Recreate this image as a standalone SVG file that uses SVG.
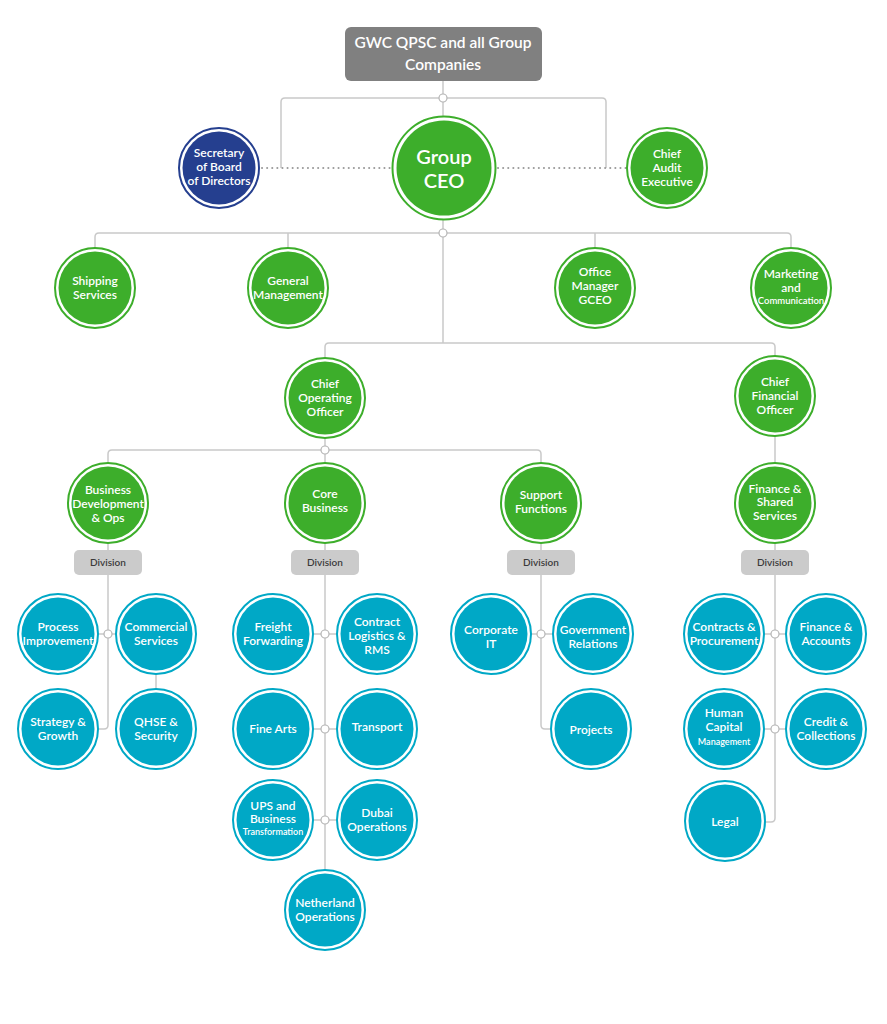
<svg xmlns="http://www.w3.org/2000/svg" width="887" height="1024" viewBox="0 0 887 1024">
<style>
.ln{fill:none;stroke:#c9c9c9;stroke-width:1.5}
.dot{fill:none;stroke:#9a9a9a;stroke-width:2;stroke-dasharray:0.1 5;stroke-linecap:round}
.jn{fill:#fff;stroke:#b5b5b5;stroke-width:1.2}
.ring{fill:#fff;stroke-width:2}
.g .ring{stroke:#3dae2b}.g .core{fill:#3dae2b}
.b .ring{stroke:#253f8f}.b .core{fill:#253f8f}
.t .ring{stroke:#00a8c6}.t .core{fill:#00a8c6}
text{font-family:Lato,"Liberation Sans",sans-serif;fill:#fff;text-anchor:middle;font-size:12px;font-weight:600}
.div rect{fill:#cbcbcb}
.div text{fill:#3a3a3a;font-size:10px}
</style>
<rect width="887" height="1024" fill="#fff"/>
<g id="connectors">
<path class="ln" d="M443,81V116"/>
<path class="ln" d="M281,168V102Q281,98 285,98H602Q606,98 606,102V168"/>
<path class="dot" d="M262,168H390M498,168H626"/>
<path class="ln" d="M443,220V343"/>
<path class="ln" d="M95,248V237Q95,233 99,233H787Q791,233 791,237V248M288,233V248M595,233V248"/>
<path class="ln" d="M325,358V347Q325,343 329,343H771Q775,343 775,347V356"/>
<path class="ln" d="M325,438V463M108,463V454Q108,450 112,450H537Q541,450 541,454V463"/>
<path class="ln" d="M775,436V463"/>
<path class="ln" d="M108,543V550M325,543V550M541,543V550M775,543V550"/>
<path class="ln" d="M108,574V725Q108,729 104,729H98M98,634H116M156,674V689"/>
<path class="ln" d="M325,574V871M313,634H337M313,729H337M313,820H337"/>
<path class="ln" d="M541,574V725Q541,729 545,729H551M531,634H553"/>
<path class="ln" d="M775,574V818Q775,822 771,822H765M764,634H786M764,729H786"/>
<circle class="jn" cx="443" cy="98" r="4"/>
<circle class="jn" cx="443" cy="233" r="4"/>
<circle class="jn" cx="325" cy="450" r="4"/>
<circle class="jn" cx="108" cy="634" r="4"/>
<circle class="jn" cx="325" cy="634" r="4"/>
<circle class="jn" cx="325" cy="729" r="4"/>
<circle class="jn" cx="325" cy="820" r="4"/>
<circle class="jn" cx="541" cy="634" r="4"/>
<circle class="jn" cx="775" cy="634" r="4"/>
<circle class="jn" cx="775" cy="729" r="4"/>
</g>
<g id="top">
<rect x="345" y="27" width="197" height="54" rx="6" fill="#808080"/>
<text x="443" y="48" style="font-size:15.5px">GWC QPSC and all Group</text>
<text x="443" y="70" style="font-size:15.5px">Companies</text>
</g>
<g id="ceo" class="g">
<circle class="ring" cx="444" cy="168" r="51.5"/><circle class="core" cx="444" cy="168" r="47.5"/>
<text x="444" y="164" style="font-size:20px">Group</text><text x="444" y="188" style="font-size:20px">CEO</text>
</g>
<g id="secretary" class="b">
<circle class="ring" cx="219" cy="168" r="40"/><circle class="core" cx="219" cy="168" r="36.5"/>
<text x="219" y="157">Secretary</text><text x="219" y="171">of Board</text><text x="219" y="185">of Directors</text>
</g>
<g id="audit" class="g">
<circle class="ring" cx="667" cy="168" r="40"/><circle class="core" cx="667" cy="168" r="36.5"/>
<text x="667" y="158">Chief</text><text x="667" y="172">Audit</text><text x="667" y="186">Executive</text>
</g>
<g id="shipping" class="g">
<circle class="ring" cx="95" cy="288" r="40"/><circle class="core" cx="95" cy="288" r="36.5"/>
<text x="95" y="285">Shipping</text><text x="95" y="299">Services</text>
</g>
<g id="general" class="g">
<circle class="ring" cx="288" cy="288" r="40"/><circle class="core" cx="288" cy="288" r="36.5"/>
<text x="288" y="285">General</text><text x="288" y="299">Management</text>
</g>
<g id="office" class="g">
<circle class="ring" cx="595" cy="288" r="40"/><circle class="core" cx="595" cy="288" r="36.5"/>
<text x="595" y="276">Office</text><text x="595" y="290">Manager</text><text x="595" y="304">GCEO</text>
</g>
<g id="marketing" class="g">
<circle class="ring" cx="791" cy="288" r="40"/><circle class="core" cx="791" cy="288" r="36.5"/>
<text x="791" y="278">Marketing</text><text x="791" y="292">and</text><text x="791" y="304" style="font-size:9.5px">Communication</text>
</g>
<g id="coo" class="g">
<circle class="ring" cx="325" cy="398" r="40"/><circle class="core" cx="325" cy="398" r="36.5"/>
<text x="325" y="388">Chief</text><text x="325" y="402">Operating</text><text x="325" y="416">Officer</text>
</g>
<g id="cfo" class="g">
<circle class="ring" cx="775" cy="396" r="40"/><circle class="core" cx="775" cy="396" r="36.5"/>
<text x="775" y="386">Chief</text><text x="775" y="400">Financial</text><text x="775" y="414">Officer</text>
</g>
<g id="bizdev" class="g">
<circle class="ring" cx="108" cy="503" r="40"/><circle class="core" cx="108" cy="503" r="36.5"/>
<text x="108" y="494">Business</text><text x="108" y="508">Development</text><text x="108" y="522">&amp; Ops</text>
</g>
<g id="core" class="g">
<circle class="ring" cx="325" cy="503" r="40"/><circle class="core" cx="325" cy="503" r="36.5"/>
<text x="325" y="498">Core</text><text x="325" y="512">Business</text>
</g>
<g id="support" class="g">
<circle class="ring" cx="541" cy="503" r="40"/><circle class="core" cx="541" cy="503" r="36.5"/>
<text x="541" y="499">Support</text><text x="541" y="513">Functions</text>
</g>
<g id="finshared" class="g">
<circle class="ring" cx="775" cy="503" r="40"/><circle class="core" cx="775" cy="503" r="36.5"/>
<text x="775" y="493">Finance &amp;</text><text x="775" y="506">Shared</text><text x="775" y="520">Services</text>
</g>
<g id="div1" class="div"><rect x="74" y="550" width="68" height="25" rx="5"/><text x="108" y="566">Division</text></g>
<g id="div2" class="div"><rect x="291" y="550" width="68" height="25" rx="5"/><text x="325" y="566">Division</text></g>
<g id="div3" class="div"><rect x="507" y="550" width="68" height="25" rx="5"/><text x="541" y="566">Division</text></g>
<g id="div4" class="div"><rect x="741" y="550" width="68" height="25" rx="5"/><text x="775" y="566">Division</text></g>
<g id="process" class="t">
<circle class="ring" cx="58" cy="634" r="40"/><circle class="core" cx="58" cy="634" r="36.5"/>
<text x="58" y="631">Process</text><text x="58" y="645">Improvement</text>
</g>
<g id="commercial" class="t">
<circle class="ring" cx="156" cy="634" r="40"/><circle class="core" cx="156" cy="634" r="36.5"/>
<text x="156" y="631">Commercial</text><text x="156" y="645">Services</text>
</g>
<g id="strategy" class="t">
<circle class="ring" cx="58" cy="729" r="40"/><circle class="core" cx="58" cy="729" r="36.5"/>
<text x="58" y="726">Strategy &amp;</text><text x="58" y="740">Growth</text>
</g>
<g id="qhse" class="t">
<circle class="ring" cx="156" cy="729" r="40"/><circle class="core" cx="156" cy="729" r="36.5"/>
<text x="156" y="726">QHSE &amp;</text><text x="156" y="740">Security</text>
</g>
<g id="freight" class="t">
<circle class="ring" cx="273" cy="634" r="40"/><circle class="core" cx="273" cy="634" r="36.5"/>
<text x="273" y="631">Freight</text><text x="273" y="645">Forwarding</text>
</g>
<g id="contract" class="t">
<circle class="ring" cx="377" cy="634" r="40"/><circle class="core" cx="377" cy="634" r="36.5"/>
<text x="377" y="626">Contract</text><text x="377" y="640">Logistics &amp;</text><text x="377" y="654">RMS</text>
</g>
<g id="finearts" class="t">
<circle class="ring" cx="273" cy="729" r="40"/><circle class="core" cx="273" cy="729" r="36.5"/>
<text x="273" y="733">Fine Arts</text>
</g>
<g id="transport" class="t">
<circle class="ring" cx="377" cy="729" r="40"/><circle class="core" cx="377" cy="729" r="36.5"/>
<text x="377" y="731">Transport</text>
</g>
<g id="ups" class="t">
<circle class="ring" cx="273" cy="820" r="40"/><circle class="core" cx="273" cy="820" r="36.5"/>
<text x="273" y="810">UPS and</text><text x="273" y="823">Business</text><text x="273" y="835" style="font-size:9px">Transformation</text>
</g>
<g id="dubai" class="t">
<circle class="ring" cx="377" cy="820" r="40"/><circle class="core" cx="377" cy="820" r="36.5"/>
<text x="377" y="817">Dubai</text><text x="377" y="831">Operations</text>
</g>
<g id="netherland" class="t">
<circle class="ring" cx="325" cy="910" r="40"/><circle class="core" cx="325" cy="910" r="36.5"/>
<text x="325" y="907">Netherland</text><text x="325" y="921">Operations</text>
</g>
<g id="corpit" class="t">
<circle class="ring" cx="491" cy="634" r="40"/><circle class="core" cx="491" cy="634" r="36.5"/>
<text x="491" y="634">Corporate</text><text x="491" y="648">IT</text>
</g>
<g id="gov" class="t">
<circle class="ring" cx="593" cy="634" r="40"/><circle class="core" cx="593" cy="634" r="36.5"/>
<text x="593" y="634">Government</text><text x="593" y="648">Relations</text>
</g>
<g id="projects" class="t">
<circle class="ring" cx="591" cy="729" r="40"/><circle class="core" cx="591" cy="729" r="36.5"/>
<text x="591" y="734">Projects</text>
</g>
<g id="contracts" class="t">
<circle class="ring" cx="724" cy="634" r="40"/><circle class="core" cx="724" cy="634" r="36.5"/>
<text x="724" y="631">Contracts &amp;</text><text x="724" y="645">Procurement</text>
</g>
<g id="finacc" class="t">
<circle class="ring" cx="826" cy="634" r="40"/><circle class="core" cx="826" cy="634" r="36.5"/>
<text x="826" y="631">Finance &amp;</text><text x="826" y="645">Accounts</text>
</g>
<g id="hcm" class="t">
<circle class="ring" cx="724" cy="729" r="40"/><circle class="core" cx="724" cy="729" r="36.5"/>
<text x="724" y="717">Human</text><text x="724" y="731">Capital</text><text x="724" y="745" style="font-size:9px">Management</text>
</g>
<g id="credit" class="t">
<circle class="ring" cx="826" cy="729" r="40"/><circle class="core" cx="826" cy="729" r="36.5"/>
<text x="826" y="726">Credit &amp;</text><text x="826" y="740">Collections</text>
</g>
<g id="legal" class="t">
<circle class="ring" cx="725" cy="821" r="40"/><circle class="core" cx="725" cy="821" r="36.5"/>
<text x="725" y="826">Legal</text>
</g>
</svg>
